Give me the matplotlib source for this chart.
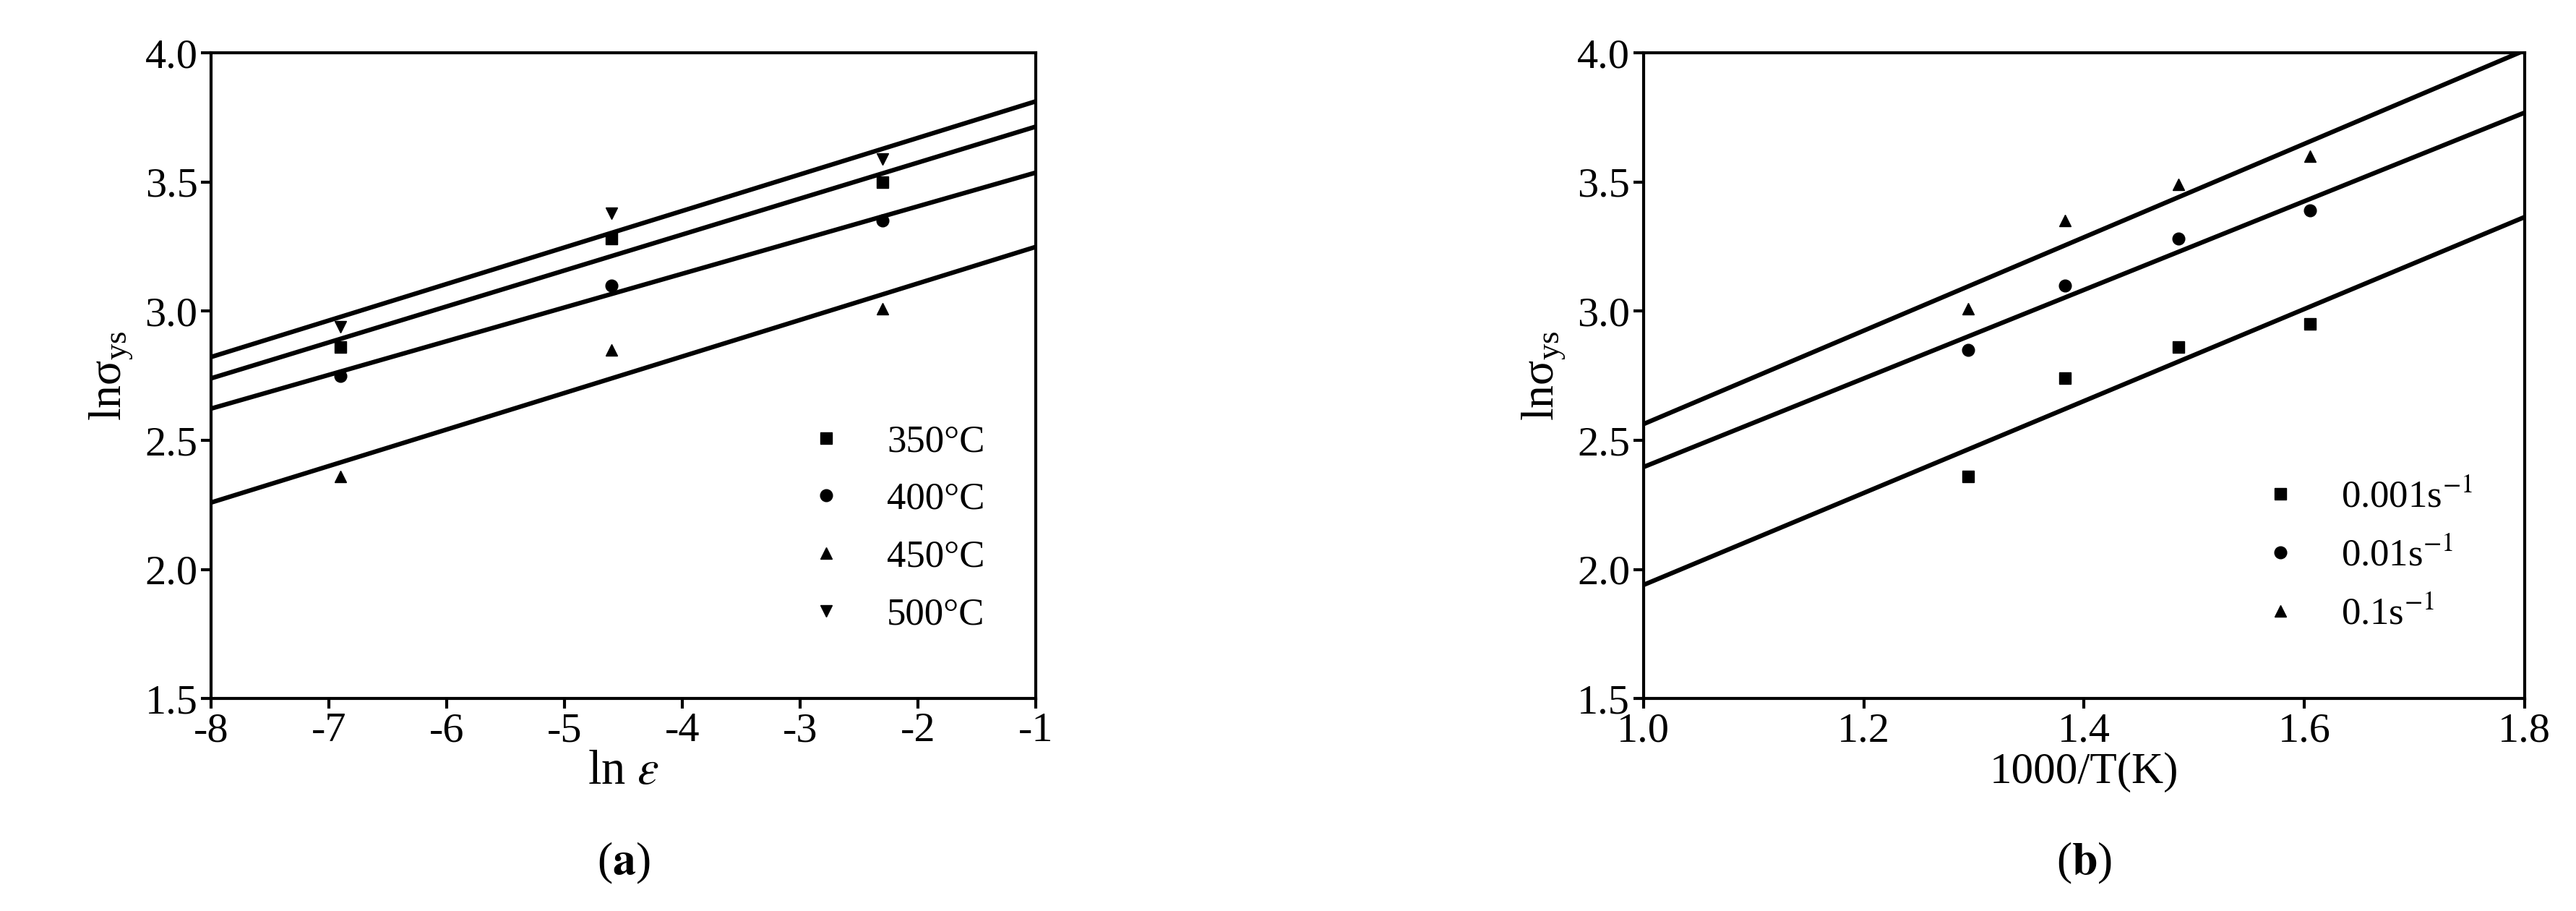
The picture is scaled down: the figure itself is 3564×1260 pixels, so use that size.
import numpy as np
import matplotlib
matplotlib.use("Agg")
import matplotlib.pyplot as plt

plt.rcParams['font.family'] = ['Liberation Serif', 'DejaVu Serif']
plt.rcParams['mathtext.fontset'] = 'stix'
plt.rcParams['axes.unicode_minus'] = False

x_a = [-6.9, -4.6, -2.3]
temps = ['350°C', '400°C', '450°C', '500°C']
y_350 = [2.86, 3.28, 3.50]
y_400 = [2.75, 3.10, 3.35]
y_450 = [2.36, 2.85, 3.01]
y_500 = [2.94, 3.38, 3.59]

x_b = [1.295, 1.383, 1.486, 1.605]
rates = ['0.001s$^{-1}$', '0.01s$^{-1}$', '0.1s$^{-1}$']
y_001 = [2.36, 2.74, 2.86, 2.95]
y_01 = [2.85, 3.10, 3.28, 3.39]
y_1 = [3.01, 3.35, 3.49, 3.60]

fig = plt.figure(figsize=(35.64, 12.60), dpi=100)
ax1 = fig.add_axes([0.082, 0.233, 0.320, 0.709])
ax2 = fig.add_axes([0.638, 0.233, 0.342, 0.709])

ms = 12
def draw(ax, x, ys, labels, markers, xr):
    xs = np.array(xr)
    for y, lab, m in zip(ys, labels, markers):
        ax.plot(x, y, m, color='black', ms=ms, ls='none', label=lab)
        p = np.polyfit(x, y, 1)
        ax.plot(xs, np.polyval(p, xs), color='black', lw=4.5)

draw(ax1, x_a, [y_350, y_400, y_450, y_500], temps, ['s', 'o', '^', 'v'], [-8, -1])
draw(ax2, x_b, [y_001, y_01, y_1], rates, ['s', 'o', '^'], [1.0, 1.8])

ax1.set_xlim(-8, -1); ax1.set_ylim(1.5, 4.0)
ax2.set_xlim(1.0, 1.8); ax2.set_ylim(1.5, 4.0)
ax1.set_xticks(range(-8, 0))
ax2.set_xticks([1.0, 1.2, 1.4, 1.6, 1.8])
for ax in (ax1, ax2):
    ax.set_yticks([1.5, 2.0, 2.5, 3.0, 3.5, 4.0])
    ax.yaxis.set_major_formatter(matplotlib.ticker.FormatStrFormatter('%.1f'))
    ax.tick_params(labelsize=42, width=3, length=10, direction='out')
    for s in ax.spines.values():
        s.set_linewidth(3)
    ax.set_ylabel(r'ln$\mathregular{\sigma_{ys}}$', fontsize=46, labelpad=10)
    ax.legend(loc='lower right', fontsize=38, frameon=False, handletextpad=0.6,
              labelspacing=0.6, bbox_to_anchor=(0.98, 0.05))
ax2.xaxis.set_major_formatter(matplotlib.ticker.FormatStrFormatter('%.1f'))
ax1.set_xlabel(r'ln $\varepsilon$', fontsize=48, labelpad=0)
ax2.set_xlabel('1000/T(K)', fontsize=44, labelpad=2)
fig.text(0.242, 0.04, r'($\mathbf{a}$)', fontsize=46, ha='center')
fig.text(0.809, 0.04, r'($\mathbf{b}$)', fontsize=46, ha='center')
fig.savefig('out.png', dpi=100)
